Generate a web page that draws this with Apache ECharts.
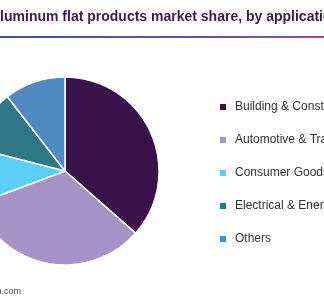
<!DOCTYPE html>
<html><head><meta charset="utf-8">
<script src="https://cdn.jsdelivr.net/npm/echarts@6/dist/echarts.min.js"></script>
<style>html,body{margin:0;padding:0;background:#fff}#c{width:324px;height:300px}</style>
</head><body><div id="c"></div>
<script>
var categories = ["Building & Construction", "Automotive & Transportation", "Consumer Goods", "Electrical & Energy", "Others"];
var shares = [36.5, 32.8, 9.7, 10.5, 10.5];
var colors = ["#381249", "#a692c4", "#5ccdf5", "#2f7787", "#4f8bc0"];
var titleText = "Aluminum flat products market share, by application";
var sourceText = "Source: www.grandviewresearch.com";

var chart = echarts.init(document.getElementById('c'), null, {renderer: 'canvas'});
chart.setOption({
  animation: false,
  color: colors,
  graphic: [
    {type: 'text', left: -10, top: 10, style: {text: titleText, font: 'bold 14px "Liberation Sans", Arial, sans-serif', fill: '#3c1a50'}},
    {type: 'rect', shape: {x: 0, y: 36, width: 324, height: 2},
     style: {fill: new echarts.graphic.LinearGradient(0, 0, 1, 0, [{offset: 0, color: '#3f4fa0'}, {offset: 1, color: '#8652a6'}])}},
    {type: 'text', x: 21, y: 287, style: {text: sourceText, align: 'right', font: '9px "Liberation Sans", Arial, sans-serif', fill: '#444'}}
  ],
  legend: {
    orient: 'vertical', left: 213, top: 96, padding: 5,
    icon: 'rect', itemWidth: 8, itemHeight: 8, itemGap: 21,
    textStyle: {fontSize: 12, color: '#333', fontFamily: '"Liberation Sans", Arial, sans-serif', padding: [0, 0, 0, 3]},
    data: categories
  },
  series: [{
    type: 'pie', center: [65, 171], radius: [0, 94],
    startAngle: 90, clockwise: true,
    label: {show: false}, labelLine: {show: false},
    itemStyle: {borderColor: '#fff', borderWidth: 1.5},
    emphasis: {disabled: true},
    data: categories.map(function (c, i) { return {name: c, value: shares[i]}; })
  }]
});
</script></body></html>
